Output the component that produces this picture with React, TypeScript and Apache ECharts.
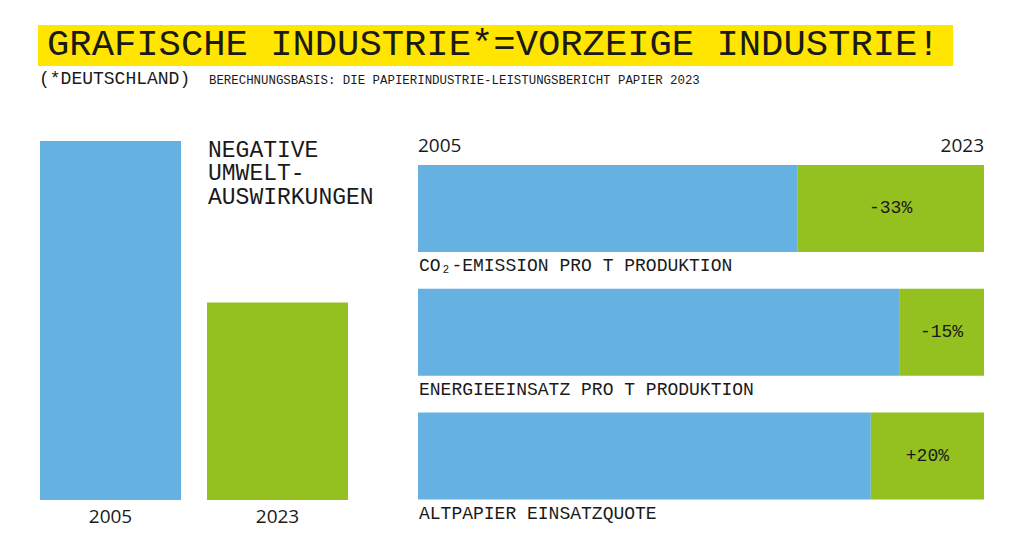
import React, { useEffect, useRef } from "react";
import * as echarts from "echarts";

const years = ["2005", "2023"];
const impactValues = [100, 55];

const metrics = ["CO₂-EMISSION PRO T PRODUKTION", "ENERGIEEINSATZ PRO T PRODUKTION", "ALTPAPIER EINSATZQUOTE"];
const base2005 = [67, 85, 80];
const change2023 = [33, 15, 20];
const changeLabels = ["-33%", "-15%", "+20%"];
const sideTitleLines = ["NEGATIVE", "UMWELT-", "AUSWIRKUNGEN"];

const BLUE = "#64b1e2";
const GREEN = "#94c11f";
const YELLOW = "#ffe500";
const INK = "#1a1a1a";
const MONO = "'Liberation Mono', 'DejaVu Sans Mono', monospace";
const SANS = "'Open Sans', 'Noto Sans', sans-serif";

export default function App() {
  const ref = useRef<HTMLDivElement>(null);
  useEffect(() => {
    if (!ref.current) return;
    const chart = echarts.init(ref.current, null, { renderer: "svg" });
    chart.setOption({
      animation: false,
      backgroundColor: "#ffffff",
      grid: [
        { left: 27, top: 141, width: 334, height: 359 },
        { left: 418, top: 146.5, width: 566, height: 371.5 },
      ],
      xAxis: [
        {
          gridIndex: 0,
          type: "category",
          data: years,
          axisLine: { show: false },
          axisTick: { show: false },
          axisLabel: { color: INK, fontFamily: SANS, fontSize: 19, margin: 6 },
        },
        {
          gridIndex: 1,
          type: "value",
          min: 0,
          max: 100,
          show: false,
        },
      ],
      yAxis: [
        { gridIndex: 0, type: "value", min: 0, max: 100, show: false },
        {
          gridIndex: 1,
          type: "category",
          data: metrics,
          inverse: true,
          show: false,
        },
      ],
      series: [
        {
          type: "bar",
          xAxisIndex: 0,
          yAxisIndex: 0,
          barWidth: 141,
          data: impactValues.map((v, i) => ({
            value: v,
            itemStyle: { color: i === 0 ? BLUE : GREEN },
          })),
        },
        {
          type: "bar",
          xAxisIndex: 1,
          yAxisIndex: 1,
          stack: "s",
          barWidth: 87,
          itemStyle: { color: BLUE },
          data: base2005,
          label: {
            show: true,
            position: [0, "100%"],
            align: "left",
            verticalAlign: "top",
            offset: [1, 5],
            fontFamily: MONO,
            fontSize: 18,
            color: INK,
            formatter: (p: any) => metrics[p.dataIndex],
          },
        },
        {
          type: "bar",
          xAxisIndex: 1,
          yAxisIndex: 1,
          stack: "s",
          barWidth: 87,
          itemStyle: { color: GREEN },
          data: change2023,
          label: {
            show: true,
            position: "inside",
            fontFamily: MONO,
            fontSize: 18,
            color: INK,
            formatter: (p: any) => changeLabels[p.dataIndex],
          },
        },
      ],
      graphic: [
        {
          type: "rect",
          left: 38,
          top: 25,
          shape: { width: 915, height: 41 },
          style: { fill: YELLOW },
        },
        {
          type: "text",
          left: 47,
          top: 26,
          style: {
            text: "GRAFISCHE INDUSTRIE*=VORZEIGE INDUSTRIE!",
            fontFamily: MONO,
            fontSize: 37.2,
            fill: INK,
          },
        },
        {
          type: "text",
          left: 39,
          top: 70,
          style: { text: "(*DEUTSCHLAND)", fontFamily: MONO, fontSize: 18, fill: INK },
        },
        {
          type: "text",
          left: 209,
          top: 75,
          style: {
            text: "BERECHNUNGSBASIS: DIE PAPIERINDUSTRIE-LEISTUNGSBERICHT PAPIER 2023",
            fontFamily: MONO,
            fontSize: 12.4,
            fill: INK,
          },
        },
        ...sideTitleLines.map((t, i) => ({
          type: "text",
          left: 208,
          top: 139 + i * 23.5,
          style: { text: t, fontFamily: MONO, fontSize: 23, fill: INK },
        })),
        {
          type: "text",
          left: 418,
          top: 135,
          style: { text: years[0], fontFamily: SANS, fontSize: 19, fill: INK },
        },
        {
          type: "text",
          right: 40,
          top: 135,
          style: { text: years[1], fontFamily: SANS, fontSize: 19, fill: INK },
        },
      ],
    });
    return () => chart.dispose();
  }, []);
  return (
    <div
      ref={ref}
      style={{ position: "fixed", left: 0, top: 0, width: 1024, height: 550 }}
    />
  );
}
